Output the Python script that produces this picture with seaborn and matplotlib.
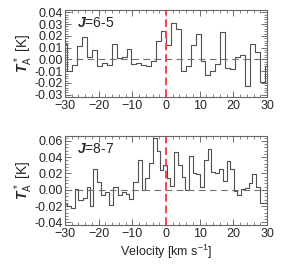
import pandas as pd
import seaborn as sns
import matplotlib.pyplot as plt
from matplotlib.ticker import MultipleLocator

# channel edges [km/s] and antenna temperature per channel [K]
vel_edges_65 = [-30.0, -29.3, -27.84, -26.37, -24.91, -23.44, -21.98, -20.51, -19.05,
                -17.58, -16.12, -14.65, -13.19, -11.72, -10.26, -8.79, -7.33, -5.86,
                -4.4, -2.93, -1.47, 0.0, 1.47, 2.93, 4.4, 5.86, 7.33, 8.79, 10.26,
                11.72, 13.19, 14.65, 16.12, 17.58, 19.05, 20.51, 21.98, 23.44, 24.91,
                26.37, 27.84, 29.3, 30.0]
ta_65 = [0.013, -0.010, -0.005, 0.011, 0.019, 0.002, 0.008, -0.006, -0.003, -0.005,
         0.013, 0.001, 0.002, 0.009, -0.004, -0.003, -0.005, -0.006, -0.001, 0.016,
         0.024, 0.012, 0.031, 0.026, -0.010, -0.006, 0.012, 0.022, -0.001, -0.013,
         -0.010, -0.004, 0.023, -0.007, -0.008, 0.002, 0.004, -0.023, 0.013, 0.006,
         -0.019, -0.006]

vel_edges_87 = [-30.0, -29.3, -28.1, -27.0, -26.0, -24.8, -23.5, -22.6, -21.6, -20.6,
                -19.4, -18.1, -16.8, -15.6, -14.4, -13.2, -12.0, -10.9, -9.8, -8.4,
                -7.2, -6.2, -5.1, -3.9, -2.8, -1.7, -0.9, 0.2, 1.3, 2.3, 3.6, 4.6,
                5.7, 6.8, 7.9, 9.0, 10.1, 11.4, 12.4, 13.5, 14.6, 15.7, 16.9, 18.0,
                19.1, 20.1, 21.2, 22.2, 23.4, 24.5, 25.5, 26.7, 27.8, 30.0]
ta_87 = [-0.018, -0.020, -0.022, 0.001, -0.012, -0.010, 0.004, -0.020, 0.025, 0.010,
         -0.006, -0.003, -0.019, 0.004, -0.006, -0.003, -0.005, -0.011, 0.009, 0.036,
         0.000, 0.015, 0.033, 0.063, 0.047, 0.024, 0.031, 0.014, 0.005, 0.046,
         0.031, 0.016, 0.000, 0.041, 0.020, 0.019, 0.004, 0.037, 0.050, 0.022,
         0.020, 0.026, 0.011, 0.035, 0.025, -0.002, -0.006, 0.001, 0.002, 0.008,
         0.019, 0.003, -0.016]

sns.set_style('ticks')
plt.rcParams['font.family'] = ['Liberation Sans', 'DejaVu Sans']
plt.rcParams['mathtext.fontset'] = 'custom'
plt.rcParams['mathtext.rm'] = 'Liberation Sans'
plt.rcParams['mathtext.it'] = 'Liberation Sans:italic'
plt.rcParams['mathtext.bf'] = 'Liberation Sans:bold:italic'

fig = plt.figure(figsize=(2.87, 2.78), dpi=100)
ax1 = fig.add_axes([0.2265, 0.651, 0.704, 0.313])
ax2 = fig.add_axes([0.2265, 0.191, 0.704, 0.320])


def spectrum(ax, edges, vals, ylim, ymaj, ymin, label):
    df = pd.DataFrame({'v': edges, 'ta': vals + [vals[-1]]})
    sns.lineplot(data=df, x='v', y='ta', ax=ax, drawstyle='steps-post',
                 color='#505050', lw=0.8, estimator=None)
    ax.axhline(0, color='#707070', lw=0.8, ls=(0, (6, 4)))
    ax.axvline(0, color='#ff4040', lw=1.4, ls=(0, (4, 2)))
    ax.set_xlim(-30, 30)
    ax.set_ylim(*ylim)
    ax.xaxis.set_major_locator(MultipleLocator(10))
    ax.xaxis.set_minor_locator(MultipleLocator(2))
    ax.yaxis.set_major_locator(MultipleLocator(ymaj))
    ax.yaxis.set_minor_locator(MultipleLocator(ymin))
    ax.yaxis.set_major_formatter(plt.FormatStrFormatter('%.2f'))
    ax.tick_params(which='both', direction='in', top=True, right=True,
                   labelsize=9, color='#555555', pad=2)
    ax.tick_params(axis='y', pad=1.5)
    ax.tick_params(which='major', length=4, width=0.6)
    ax.tick_params(which='minor', length=2, width=0.5)
    for s in ax.spines.values():
        s.set_color('#666666')
        s.set_linewidth(0.8)
    ax.set_xlabel('')
    ax.set_ylabel(r'$\mathbf{T}_{\mathrm{A}}^{\,*}$ [K]', fontsize=10, labelpad=0)
    ax.text(0.06, 0.93, r'$\mathbf{J}$=' + label, transform=ax.transAxes,
            fontsize=10, va='top', ha='left')


spectrum(ax1, vel_edges_65, ta_65, (-0.032, 0.042), 0.01, 0.002, '6-5')
spectrum(ax2, vel_edges_87, ta_87, (-0.043, 0.066), 0.02, 0.004, '8-7')
ax2.set_xlabel(r'Velocity [km s$^{-1}$]', fontsize=9, labelpad=2)

fig.savefig('out.png', dpi=100)
